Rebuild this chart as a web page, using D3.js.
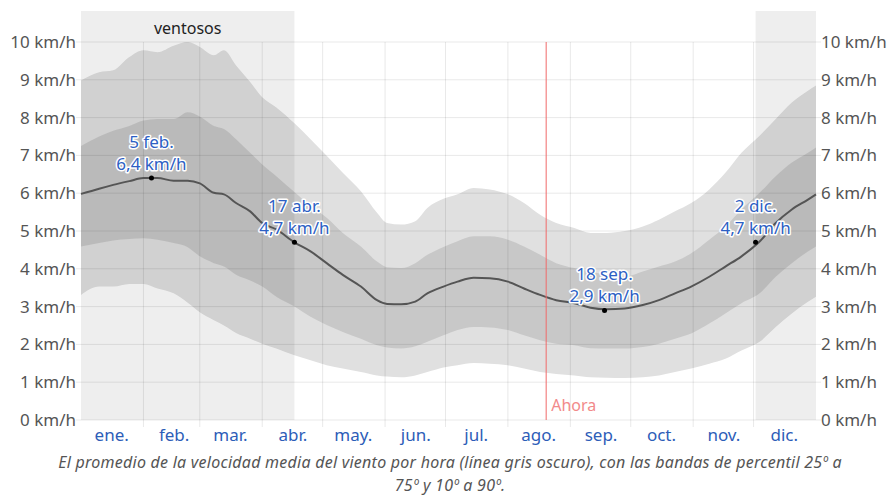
<!DOCTYPE html>
<html>

<head>
    <meta charset="utf-8">
    <title>Velocidad del viento</title>
    <script src="https://d3js.org/d3.v7.min.js"></script>
    <style>
        body {
            margin: 0;
            background: #fff;
        }

        svg text {
            font-family: "Noto Sans", "Open Sans", sans-serif;
        }
    </style>
</head>

<body>
    <div id="chart"></div>
    <script>
        // day of year (0 = 1 ene.) for every reading
        var days = [0, 9, 16, 24, 31, 38, 46, 53, 59, 66, 71, 77, 84, 90,
            97, 106, 114, 122, 130, 139, 147, 152, 159, 166, 172, 180,
            187, 195, 203, 212, 220, 228, 236, 245, 253, 261, 270,
            279, 287, 295, 303, 312, 320, 328, 337, 345, 353, 361, 365];

        // 90th percentile
        var p90 = [8.98, 9.2, 9.25, 9.6, 9.78, 9.73, 9.9, 10.0, 9.87, 9.65, 9.78, 9.38, 8.94, 8.54,
            8.27, 7.85, 7.43, 6.99, 6.54, 6.05, 5.48, 5.21, 5.17, 5.26, 5.61, 5.85,
            5.97, 6.14, 6.1, 5.97, 5.74, 5.43, 5.21, 5.08, 4.95, 4.95, 5.0,
            5.12, 5.3, 5.52, 5.74, 6.1, 6.54, 7.07, 7.52, 7.96, 8.4, 8.71, 8.85];

        // 75th percentile
        var p75 = [7.25, 7.5, 7.65, 7.78, 7.92, 7.96, 7.96, 8.14, 8.03, 7.78, 7.7, 7.43, 7.07, 6.76,
            6.45, 6.03, 5.66, 5.35, 4.95, 4.59, 4.19, 4.04, 4.02, 4.15, 4.37, 4.58,
            4.73, 4.86, 4.86, 4.77, 4.59, 4.37, 4.15, 4.02, 3.93, 3.84, 3.79,
            3.93, 4.06, 4.19, 4.41, 4.77, 5.12, 5.57, 6.01, 6.45, 6.81, 7.07, 7.21];

        // mean wind speed
        var mean = [5.98, 6.12, 6.22, 6.32, 6.4, 6.4, 6.33, 6.33, 6.26, 6.01, 5.97, 5.74, 5.52, 5.21,
            5.04, 4.7, 4.46, 4.15, 3.84, 3.53, 3.17, 3.07, 3.06, 3.13, 3.35, 3.53,
            3.66, 3.76, 3.75, 3.66, 3.48, 3.31, 3.17, 3.09, 2.97, 2.93, 2.95,
            3.04, 3.17, 3.35, 3.53, 3.79, 4.06, 4.33, 4.72, 5.21, 5.57, 5.83, 5.97];

        // 25th percentile
        var p25 = [4.59, 4.68, 4.75, 4.79, 4.81, 4.77, 4.68, 4.57, 4.33, 4.15, 4.06, 3.84, 3.69, 3.53,
            3.26, 3.0, 2.73, 2.51, 2.33, 2.15, 1.98, 1.92, 1.89, 1.95, 2.07, 2.24,
            2.38, 2.46, 2.45, 2.38, 2.24, 2.11, 2.02, 1.98, 1.9, 1.89, 1.89,
            1.93, 2.02, 2.15, 2.29, 2.55, 2.82, 3.09, 3.35, 3.79, 4.15, 4.46, 4.59];

        // 10th percentile
        var p10 = [3.31, 3.53, 3.53, 3.6, 3.6, 3.48, 3.35, 3.1, 2.85, 2.64, 2.5, 2.3, 2.15, 2.02,
            1.89, 1.71, 1.58, 1.45, 1.36, 1.27, 1.18, 1.15, 1.13, 1.18, 1.27, 1.39,
            1.45, 1.51, 1.49, 1.45, 1.36, 1.27, 1.22, 1.18, 1.13, 1.12, 1.11,
            1.13, 1.18, 1.27, 1.36, 1.49, 1.62, 1.84, 2.07, 2.46, 2.82, 3.13, 3.26];

        var monthLabels = ["ene.", "feb.", "mar.", "abr.", "may.", "jun.",
            "jul.", "ago.", "sep.", "oct.", "nov.", "dic."];
        var yTicks = [0, 1, 2, 3, 4, 5, 6, 7, 8, 9, 10];

        // windy season, as [start day, end day]
        var windy = [[0, 106], [335, 365]];
        var windyLabel = "ventosos";

        // annotated extremes
        var notes = [
            { day: 35, value: 6.4, date: "5 feb." },
            { day: 106, value: 4.7, date: "17 abr." },
            { day: 260, value: 2.9, date: "18 sep." },
            { day: 335, value: 4.7, date: "2 dic." }
        ];

        var nowDay = 231;
        var captionLines = [
            "El promedio de la velocidad media del viento por hora (línea gris oscuro), con las bandas de percentil 25º a",
            "75º y 10º a 90º."
        ];

        var W = 890, H = 497;
        var start = new Date(2023, 0, 1);
        function toDate(d) { return d3.timeDay.offset(start, d); }

        var x = d3.scaleTime().domain([start, toDate(365)]).range([81, 816]);
        var y = d3.scaleLinear().domain([0, 10]).range([420, 42]);

        var svg = d3.select("#chart").append("svg")
            .attr("width", W)
            .attr("height", H);

        var rows = days.map(function (d, i) {
            return { date: toDate(d), p10: p10[i], p25: p25[i], mean: mean[i], p75: p75[i], p90: p90[i] };
        });

        var curve = d3.curveMonotoneX;

        // outer band 10-90
        svg.append("path")
            .datum(rows)
            .attr("fill", "#e0e0e0")
            .attr("d", d3.area().curve(curve)
                .x(function (d) { return x(d.date); })
                .y0(function (d) { return y(d.p10); })
                .y1(function (d) { return y(d.p90); }));

        // inner band 25-75
        svg.append("path")
            .datum(rows)
            .attr("fill", "#c8c8c8")
            .attr("d", d3.area().curve(curve)
                .x(function (d) { return x(d.date); })
                .y0(function (d) { return y(d.p25); })
                .y1(function (d) { return y(d.p75); }));

        // windy season shading
        svg.selectAll("rect.windy")
            .data(windy)
            .enter().append("rect")
            .attr("class", "windy")
            .attr("x", function (d) { return x(toDate(d[0])); })
            .attr("width", function (d) { return x(toDate(d[1])) - x(toDate(d[0])); })
            .attr("y", 11)
            .attr("height", y(0) - 11)
            .attr("fill", "#000")
            .attr("fill-opacity", 0.065);

        svg.append("text")
            .attr("x", (x(toDate(windy[0][0])) + x(toDate(windy[0][1]))) / 2)
            .attr("y", 34)
            .attr("text-anchor", "middle")
            .attr("font-size", 16)
            .attr("fill", "#222")
            .text(windyLabel);

        // horizontal grid + y labels on both sides
        svg.append("g")
            .selectAll("line")
            .data(yTicks)
            .enter().append("line")
            .attr("x1", 76)
            .attr("x2", 821)
            .attr("y1", function (d) { return y(d); })
            .attr("y2", function (d) { return y(d); })
            .attr("stroke", "#000")
            .attr("stroke-opacity", 0.09);

        var yLeft = svg.append("g")
            .attr("transform", "translate(77,0)")
            .call(d3.axisLeft(y).tickValues(yTicks).tickSize(0).tickPadding(1)
                .tickFormat(function (d) { return d + " km/h"; }));
        var yRight = svg.append("g")
            .attr("transform", "translate(820,0)")
            .call(d3.axisRight(y).tickValues(yTicks).tickSize(0).tickPadding(1)
                .tickFormat(function (d) { return d + " km/h"; }));
        [yLeft, yRight].forEach(function (g) {
            g.select(".domain").remove();
            g.selectAll("text")
                .attr("font-family", "Noto Sans")
                .attr("font-size", 17)
                .attr("fill", "#555");
        });

        // month grid lines
        var monthStarts = d3.timeMonth.range(start, toDate(365));
        svg.append("g")
            .selectAll("line")
            .data(monthStarts.slice(1))
            .enter().append("line")
            .attr("x1", function (d) { return x(d); })
            .attr("x2", function (d) { return x(d); })
            .attr("y1", y(10))
            .attr("y2", 427)
            .attr("stroke", "#000")
            .attr("stroke-opacity", 0.09);

        // month labels at mid-month
        var xAxis = svg.append("g")
            .attr("transform", "translate(0," + 423 + ")")
            .call(d3.axisBottom(x)
                .tickValues(monthStarts.map(function (d) { return d3.timeDay.offset(d, 15); }))
                .tickSize(0).tickPadding(6)
                .tickFormat(function (d, i) { return monthLabels[i]; }));
        xAxis.select(".domain").remove();
        xAxis.selectAll("text")
            .attr("font-family", "Noto Sans")
            .attr("font-size", 17)
            .attr("fill", "#2d5db8");

        // mean line
        svg.append("path")
            .datum(rows)
            .attr("fill", "none")
            .attr("stroke", "#555")
            .attr("stroke-width", 2)
            .attr("d", d3.line().curve(curve)
                .x(function (d) { return x(d.date); })
                .y(function (d) { return y(d.mean); }));

        // now marker
        svg.append("line")
            .attr("x1", x(toDate(nowDay)))
            .attr("x2", x(toDate(nowDay)))
            .attr("y1", y(10))
            .attr("y2", y(0))
            .attr("stroke", "#f06a6a")
            .attr("stroke-width", 1);
        svg.append("text")
            .attr("x", x(toDate(nowDay)) + 5)
            .attr("y", 411)
            .attr("font-size", 16)
            .attr("fill", "#f28a8a")
            .text("Ahora");

        // annotations
        var ann = svg.append("g")
            .selectAll("g")
            .data(notes)
            .enter().append("g")
            .attr("transform", function (d) {
                return "translate(" + x(toDate(d.day)) + "," + y(d.value) + ")";
            });
        ann.append("circle")
            .attr("r", 2.5)
            .attr("fill", "#000");
        ann.selectAll("text")
            .data(function (d) {
                return [{ t: d.date, dy: -30 }, { t: String(d.value).replace(".", ",") + " km/h", dy: -8 }];
            })
            .enter().append("text")
            .attr("y", function (d) { return d.dy; })
            .attr("text-anchor", "middle")
            .attr("font-size", 17)
            .attr("fill", "#2d5fc4")
            .attr("stroke", "#fff")
            .attr("stroke-width", 3)
            .attr("stroke-linejoin", "round")
            .attr("paint-order", "stroke")
            .text(function (d) { return d.t; });

        // caption
        svg.append("g")
            .selectAll("text")
            .data(captionLines)
            .enter().append("text")
            .attr("x", 450)
            .attr("y", function (d, i) { return 468 + i * 23; })
            .attr("text-anchor", "middle")
            .attr("font-size", 16)
            .attr("letter-spacing", 0.25)
            .attr("font-style", "italic")
            .attr("fill", "#555")
            .text(function (d) { return d; });
    </script>
</body>

</html>
